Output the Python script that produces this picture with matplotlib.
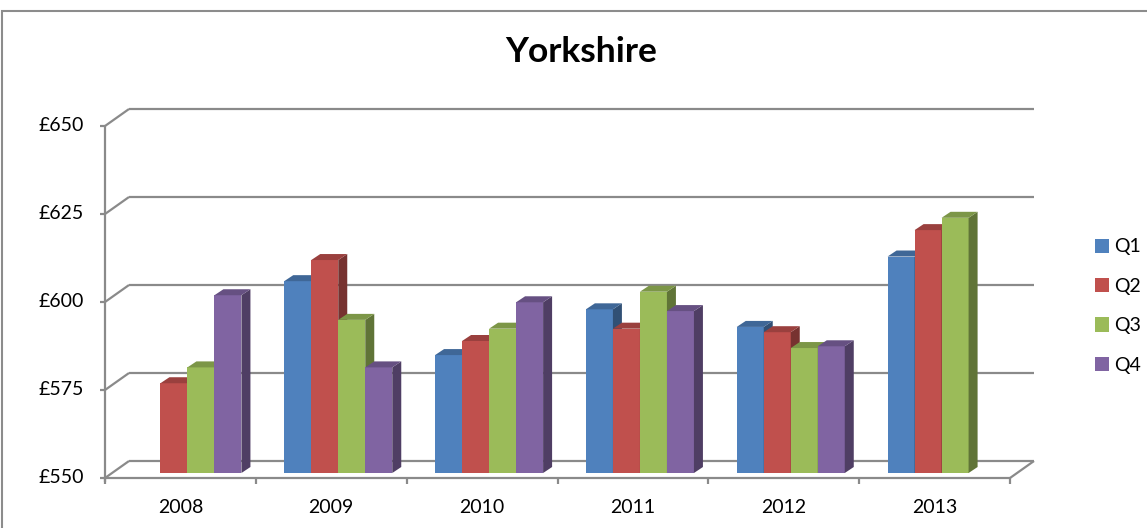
import numpy as np
import matplotlib.pyplot as plt
from matplotlib.patches import Polygon, Rectangle, Patch
from matplotlib.colors import to_rgb

# data (GBP)
years = ["2008", "2009", "2010", "2011", "2012", "2013"]
quarters = ["Q1", "Q2", "Q3", "Q4"]
q1 = [np.nan, 604.5, 583.5, 596.5, 591.5, 611.5]
q2 = [575.5, 610.5, 587.5, 591.0, 590.0, 619.0]
q3 = [580.0, 593.5, 591.0, 601.5, 585.5, 622.5]
q4 = [600.5, 580.0, 598.5, 596.0, 586.0, np.nan]
yticks = [550, 575, 600, 625, 650]
ytick_labels = ["£550", "£575", "£600", "£625", "£650"]

series = [q1, q2, q3, q4]
colors = ["#4F81BD", "#C0504D", "#9BBB59", "#8064A2"]
grid_col = "#8a8a8a"

plt.rcParams["font.family"] = ["Lato", "DejaVu Sans"]

W, H = 1147, 528
fig = plt.figure(figsize=(W / 100, H / 100), dpi=100)
# axes = the plane the bars stand in
ax = fig.add_axes([112 / W, (H - 473) / H, 905 / W, 352 / H])
ax.set_xlim(-0.5, 5.5)
ax.set_ylim(550, 650)
ax.axis("off")

# pixel -> data units
ux = 6 / 905
uy = 100 / 352


def front(x, y):
    return x - 7 * ux, y - 5 * uy


def back(x, y):
    return x + 17 * ux, y + 12 * uy


line_kw = dict(color=grid_col, lw=1.6, clip_on=False, solid_capstyle="butt")

# back wall gridlines + left wall diagonals
for v, lab in zip(yticks, ytick_labels):
    bx0, by = back(-0.5, v)
    bx1, _ = back(5.5, v)
    ax.plot([bx0, bx1], [by, by], zorder=1, **line_kw)
    fx, fy = front(-0.5, v)
    ax.plot([fx, bx0], [fy, by], zorder=1, **line_kw)
    # tick mark
    ax.plot([fx - 5 * ux, fx], [fy, fy], zorder=1, **line_kw)
    ax.text(fx - 21 * ux, fy, lab, ha="right", va="center", fontsize=14,
            color="#000000")

# front vertical axis
fx0, fy0 = front(-0.5, 550)
fx1, fy1 = front(-0.5, 650)
ax.plot([fx0, fx1], [fy0 - 4 * uy, fy1], zorder=1, **line_kw)

# floor front edge and right diagonal
fxe, fye = front(5.5, 550)
bxe, bye = back(5.5, 550)
ax.plot([fx0, fxe], [fy0, fye], zorder=1, **line_kw)
ax.plot([fxe, bxe], [fye, bye], zorder=1, **line_kw)

# category ticks and labels
for k in range(len(years) + 1):
    tx, ty = front(k - 0.5, 550)
    ax.plot([tx, tx], [ty, ty - 6 * uy], zorder=1, **line_kw)
for k, yr in enumerate(years):
    tx, ty = front(k, 550)
    ax.text(tx, ty - 30 * uy, yr, ha="center", va="center", fontsize=14,
            color="#000000")

# 3d bars
bw = 27 / 150.8
ddx = 9 * ux
ddy = 6 * uy
base = 550
idx = np.arange(len(years))
for j, (vals, col) in enumerate(zip(series, colors)):
    rgb = np.array(to_rgb(col))
    side = rgb * 0.62
    top = rgb * 0.8
    lefts = idx - 2 * bw + j * bw
    vals = np.array(vals)
    z = 3 + j
    ax.bar(lefts, vals - base, bottom=base, width=bw, align="edge",
           color=col, edgecolor="none", zorder=z, clip_on=False)
    for x0, v in zip(lefts, vals):
        if np.isnan(v):
            continue
        x1 = x0 + bw
        ax.add_patch(Polygon([(x1, base), (x1, v), (x1 + ddx, v + ddy),
                              (x1 + ddx, base + ddy)], closed=True,
                             facecolor=side, edgecolor="none", zorder=z,
                             clip_on=False))
        ax.add_patch(Polygon([(x0, v), (x1, v), (x1 + ddx, v + ddy),
                              (x0 + ddx, v + ddy)], closed=True,
                             facecolor=top, edgecolor="none", zorder=z,
                             clip_on=False))

# title
fig.text(581 / W, 1 - 52 / H, "Yorkshire", ha="center", va="center",
         fontsize=25.5, fontweight="bold", color="#000000")

# legend
handles = [Patch(facecolor=c, edgecolor="none") for c in colors]
fig.legend(handles, quarters, loc="center left",
           bbox_to_anchor=(1085 / W, 1 - 306 / H), frameon=False,
           fontsize=14, handlelength=0.75, handleheight=0.75,
           handletextpad=0.25, labelspacing=1.15, borderpad=0)

# chart border
fig.add_artist(Rectangle((2 / W, -0.2), 1.5, (H - 11) / H + 0.2,
                         transform=fig.transFigure, fill=False,
                         edgecolor="#8c8c8c", lw=1.5))

fig.savefig("out.png", dpi=100)
